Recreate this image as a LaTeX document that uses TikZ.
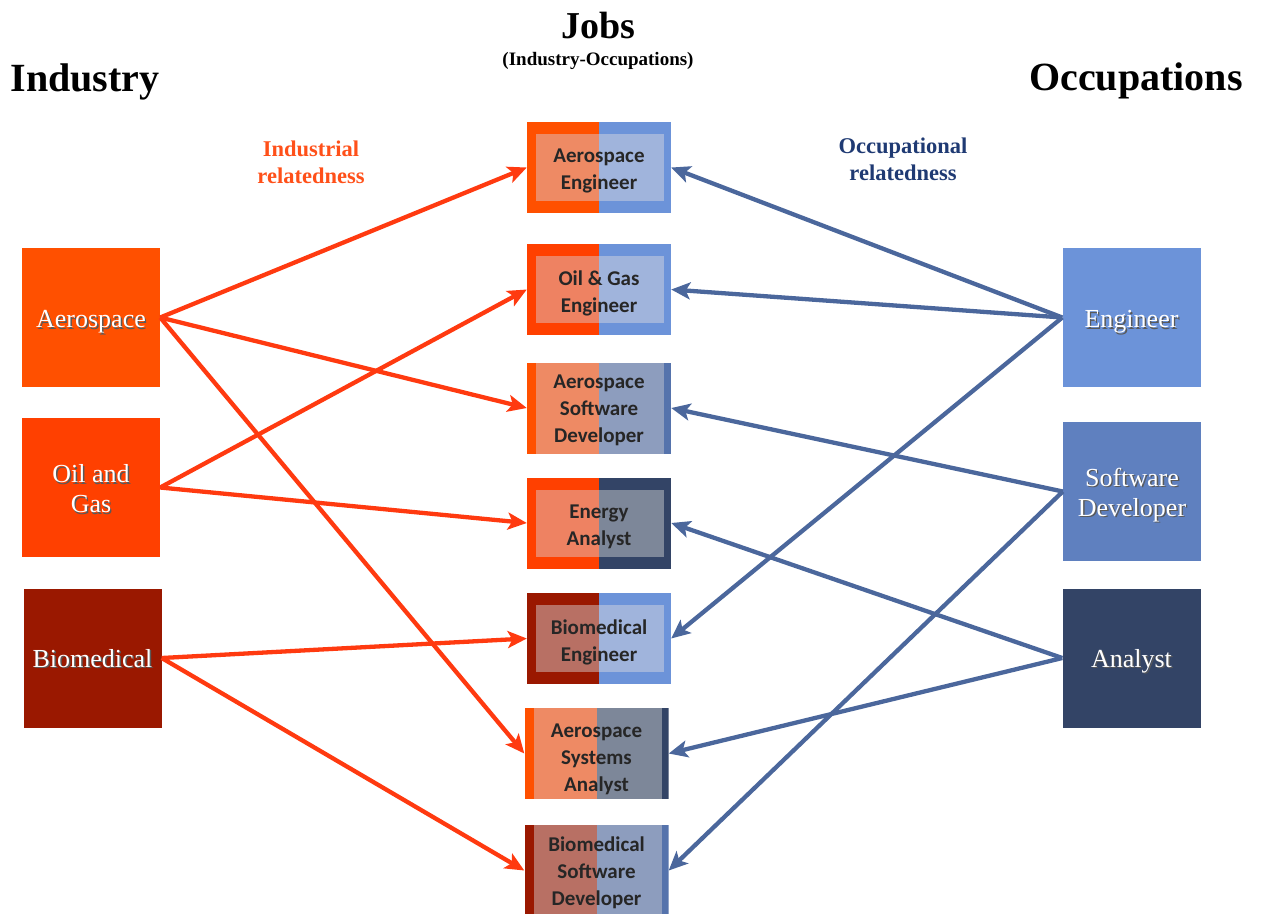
\documentclass[tikz,border=0pt]{standalone}
\usepackage{fontspec}
\setmainfont{Liberation Serif}
\newfontfamily\calib{Carlito}
\usetikzlibrary{arrows.meta}
\definecolor{aero}{HTML}{FF5000}
\definecolor{oilg}{HTML}{FF4000}
\definecolor{biom}{HTML}{9A1800}
\definecolor{engc}{HTML}{6C93D9}
\definecolor{swdc}{HTML}{5F80BF}
\definecolor{anac}{HTML}{334466}
\definecolor{swdstrip}{HTML}{5573AC}
\definecolor{aeroin}{HTML}{EE8A64}
\definecolor{oilin}{HTML}{EE8262}
\definecolor{biomin}{HTML}{B87064}
\definecolor{engin}{HTML}{A0B4DC}
\definecolor{swdin}{HTML}{8D9DBE}
\definecolor{anain}{HTML}{7D8799}
\definecolor{redline}{HTML}{FF3A10}
\definecolor{blueline}{HTML}{4B679C}
\definecolor{indlab}{HTML}{FF5019}
\definecolor{occlab}{HTML}{1F3A73}
\definecolor{jobtext}{HTML}{262626}
% white text with a soft drop shadow, lowered by the optional amount
\newcommand\shd[2][0pt]{\raisebox{-#1}[\height][\depth]{\rlap{\hspace{1.4pt}\raisebox{-1.4pt}{\textcolor{black!65}{#2}}}#2}}
% one line of job text, lowered a little
\newcommand\jt[2][3.5pt]{\raisebox{-#1}[\height][\depth]{#2}}
\begin{document}
\begin{tikzpicture}[x=1pt,y=-1pt,
  catbox/.style={rectangle, minimum width=138pt, minimum height=139pt, inner sep=0pt,
    text=white, align=center, font=\fontsize{26}{30}\selectfont},
  jobbox/.style n args={5}{rectangle, minimum width=144pt, minimum height=91pt, inner sep=0pt,
    text=jobtext, align=center, font=\calib\bfseries\fontsize{21}{27}\selectfont,
    path picture={
      \fill[#1] (path picture bounding box.south west) rectangle (path picture bounding box.north);
      \fill[#2] (path picture bounding box.south) rectangle (path picture bounding box.north east);
      \fill[#3] ([xshift=9pt,yshift=#5]path picture bounding box.south west) rectangle ([yshift=-#5]path picture bounding box.north);
      \fill[#4] ([yshift=#5]path picture bounding box.south) rectangle ([xshift=-7pt,yshift=-#5]path picture bounding box.north east);
    }},
  bigtitle/.style={anchor=base, font=\bfseries\fontsize{40}{48}\selectfont},
  rellabel/.style={align=center, font=\bfseries\fontsize{22.5}{27}\selectfont},
  redarr/.style={draw=redline, line width=4.3pt, -{Stealth[length=19pt,width=17pt,inset=4.5pt]}},
  bluearr/.style={draw=blueline, line width=4.3pt, -{Stealth[length=19pt,width=17pt,inset=4.5pt]}},
]
\useasboundingbox (0,0) rectangle (1263,913);

% titles
\node[bigtitle] (tind) at (85,91) {Industry};
\node[bigtitle] (tocc) at (1136,90) {Occupations};
\node[anchor=base, font=\bfseries\fontsize{38}{44}\selectfont] (tjobs) at (598,38) {Jobs};
\node[anchor=base, font=\bfseries\fontsize{19}{22}\selectfont] (tjobsub) at (598,65) {(Industry-Occupations)};
\node[rellabel, text=indlab] (lind) at (311,162) {Industrial\\relatedness};
\node[rellabel, text=occlab] (locc) at (903,159) {Occupational\\relatedness};

% industries
\node[catbox, fill=aero] (aerospace) at (91,317.5) {\shd[5pt]{Aerospace}};
\node[catbox, fill=oilg] (oilgas) at (91,487.5) {\shd[2pt]{Oil and}\\\shd[2pt]{Gas}};
\node[catbox, fill=biom] (biomedical) at (92.5,658) {\shd[1pt]{Biomedical}};

% occupations
\node[catbox, fill=engc] (engineer) at (1131.5,317.5) {\shd[5pt]{Engineer}};
\node[catbox, fill=swdc] (softdev) at (1132,491.5) {\shd[4pt]{Software}\\\shd[4pt]{Developer}};
\node[catbox, fill=anac] (analyst) at (1131.5,658) {\shd[4pt]{Analyst}};

% jobs
\node[jobbox={aero}{engc}{aeroin}{engin}{12pt}] (j1) at (599,167.5) {\jt{Aerospace}\\\jt{Engineer}};
\node[jobbox={oilg}{engc}{oilin}{engin}{12pt}] (j2) at (599,289.5) {\jt{Oil \& Gas}\\\jt{Engineer}};
\node[jobbox={aero}{swdstrip}{aeroin}{swdin}{0pt}] (j3) at (599,408) {\jt[2pt]{Aerospace}\\\jt[2pt]{Software}\\\jt[2pt]{Developer}};
\node[jobbox={oilg}{anac}{oilin}{anain}{12pt}] (j4) at (599,523) {\jt[4pt]{Energy}\\\jt[4pt]{Analyst}};
\node[jobbox={biom}{engc}{biomin}{engin}{12pt}] (j5) at (599,638.5) {\jt[4pt]{Biomedical}\\\jt[4pt]{Engineer}};
\node[jobbox={aero}{anac}{aeroin}{anain}{0pt}] (j6) at (596.5,753.5) {\jt[5.5pt]{Aerospace}\\\jt[5.5pt]{Systems}\\\jt[5.5pt]{Analyst}};
\node[jobbox={biom}{swdstrip}{biomin}{swdin}{0pt}] (j7) at (596.5,870.5) {\jt[2.5pt]{Biomedical}\\\jt[2.5pt]{Software}\\\jt[2.5pt]{Developer}};

% industrial relatedness
\draw[redarr] (aerospace.east) -- (j1.west);
\draw[redarr] (aerospace.east) -- (j3.west);
\draw[redarr] (aerospace.east) -- (j6.west);
\draw[redarr] (oilgas.east) -- (j2.west);
\draw[redarr] (oilgas.east) -- (j4.west);
\draw[redarr] (biomedical.east) -- (j5.west);
\draw[redarr] (biomedical.east) -- (j7.west);

% occupational relatedness
\draw[bluearr] (engineer.west) -- (j1.east);
\draw[bluearr] (engineer.west) -- (j2.east);
\draw[bluearr] (engineer.west) -- (j5.east);
\draw[bluearr] (softdev.west) -- (j3.east);
\draw[bluearr] (softdev.west) -- (j7.east);
\draw[bluearr] (analyst.west) -- (j4.east);
\draw[bluearr] (analyst.west) -- (j6.east);
\end{tikzpicture}
\end{document}
